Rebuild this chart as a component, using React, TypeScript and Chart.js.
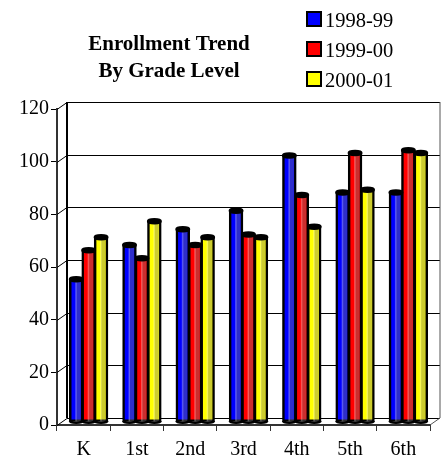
import React, { useEffect, useRef } from "react";
import { Chart, registerables } from "chart.js";

Chart.register(...registerables);

const categories = ["K", "1st", "2nd", "3rd", "4th", "5th", "6th"];
const series1998 = [54, 67, 73, 80, 101, 87, 87];
const series1999 = [65, 62, 67, 71, 86, 102, 103];
const series2000 = [70, 76, 70, 70, 74, 88, 102];
const seriesNames = ["1998-99", "1999-00", "2000-01"];
const colors = ["#0000ff", "#ff0000", "#ffff00"];
const titleLines = ["Enrollment Trend", "By Grade Level"];

const FONT = '"Liberation Serif", "Times New Roman", serif';
const DX = 10;
const DY = -7;

const wallPlugin = {
  id: "wall",
  beforeDatasetsDraw(chart: any) {
    const { ctx, chartArea: a, scales } = chart;
    const y = scales.y;
    ctx.save();
    ctx.lineWidth = 1;
    ctx.strokeStyle = "#000";
    y.ticks.forEach((t: any) => {
      const py = Math.round(y.getPixelForValue(t.value)) + 0.5;
      ctx.beginPath();
      ctx.moveTo(a.left, py);
      ctx.lineTo(a.left + DX, py + DY);
      ctx.lineTo(a.right + DX, py + DY);
      ctx.stroke();
    });
    ctx.lineWidth = 2;
    ctx.beginPath();
    ctx.moveTo(a.left + DX, a.top + DY);
    ctx.lineTo(a.left + DX, a.bottom + DY);
    ctx.stroke();
    ctx.strokeStyle = "#555";
    ctx.lineWidth = 1;
    ctx.beginPath();
    ctx.moveTo(a.right + DX, a.top + DY);
    ctx.lineTo(a.right + DX, a.bottom + DY);
    ctx.lineTo(a.right, a.bottom);
    ctx.stroke();
    ctx.restore();
  },
};

const cylinderPlugin = {
  id: "cylinder",
  beforeDatasetDraw(chart: any) {
    chart.ctx.save();
    chart.ctx.translate(DX / 2, DY / 2);
  },
  afterDatasetDraw(chart: any, args: any) {
    const { ctx } = chart;
    const meta = chart.getDatasetMeta(args.index);
    meta.data.forEach((bar: any) => {
      const w = bar.width;
      const l = bar.x - w / 2;
      ctx.save();
      ctx.fillStyle = "rgba(120,120,120,0.38)";
      ctx.fillRect(l + w * 0.5, bar.y, w * 0.36, bar.base - bar.y);
      ctx.fillStyle = "rgba(255,255,255,0.3)";
      ctx.fillRect(l + w * 0.42, bar.y, 1.5, bar.base - bar.y);
      ctx.strokeStyle = "#000";
      ctx.lineWidth = 2.5;
      ctx.fillStyle = "#000";
      ctx.beginPath();
      ctx.ellipse(bar.x, bar.y, w / 2, 2, 0, 0, Math.PI * 2);
      ctx.fill();
      ctx.stroke();
      ctx.beginPath();
      ctx.ellipse(bar.x, bar.base, w / 2, 1.8, 0, 0, Math.PI);
      ctx.stroke();
      ctx.restore();
    });
    ctx.restore();
  },
};

const annotationPlugin = {
  id: "annotation",
  afterDraw(chart: any) {
    const { ctx } = chart;
    ctx.save();
    ctx.textBaseline = "alphabetic";
    ctx.textAlign = "center";
    ctx.fillStyle = "#000";
    ctx.font = `bold 21px ${FONT}`;
    titleLines.forEach((line, i) => ctx.fillText(line, 169, 50 + i * 27));
    ctx.textAlign = "left";
    ctx.font = `20.5px ${FONT}`;
    seriesNames.forEach((name, i) => {
      const y = 12 + i * 30;
      ctx.fillStyle = colors[i];
      ctx.fillRect(307, y, 14, 14);
      ctx.strokeStyle = "#000";
      ctx.lineWidth = 2;
      ctx.strokeRect(307, y, 14, 14);
      ctx.fillStyle = "#000";
      ctx.fillText(name, 325, y + 15);
    });
    ctx.restore();
  },
};

export default function App() {
  const ref = useRef<HTMLCanvasElement>(null);
  useEffect(() => {
    const values = [series1998, series1999, series2000];
    const chart = new Chart(ref.current as HTMLCanvasElement, {
      type: "bar",
      data: {
        labels: categories,
        datasets: seriesNames.map((name, i) => ({
          label: name,
          data: values[i],
          backgroundColor: colors[i],
          borderColor: "#000",
          borderWidth: 2.5,
          borderSkipped: false,
          inflateAmount: 1,
        })),
      },
      options: {
        animation: false,
        responsive: false,
        layout: { padding: { top: 109, right: 18, left: 0, bottom: 0 } },
        datasets: { bar: { categoryPercentage: 0.7, barPercentage: 1 } },
        plugins: { legend: { display: false }, title: { display: false }, tooltip: { enabled: false } },
        scales: {
          x: {
            grid: { drawOnChartArea: false, color: "#333", tickLength: 6, offset: true },
            border: { color: "#333", width: 2 },
            ticks: { color: "#000", font: { family: FONT, size: 20 }, padding: 7, maxRotation: 0 },
            afterFit: (s: any) => { s.height = 33; },
          },
          y: {
            min: 0,
            max: 120,
            grid: { drawOnChartArea: false, color: "#000", tickLength: 6 },
            border: { color: "#333", width: 2 },
            ticks: { color: "#000", stepSize: 20, font: { family: FONT, size: 20 }, padding: 2 },
            afterFit: (s: any) => { s.width = 57; },
          },
        },
      },
      plugins: [wallPlugin, cylinderPlugin, annotationPlugin],
    } as any);
    return () => chart.destroy();
  }, []);
  return (
    <div style={{ position: "fixed", left: 0, top: 0, width: 448, height: 458, background: "#fff" }}>
      <canvas ref={ref} width={448} height={458} style={{ display: "block" }} />
    </div>
  );
}
